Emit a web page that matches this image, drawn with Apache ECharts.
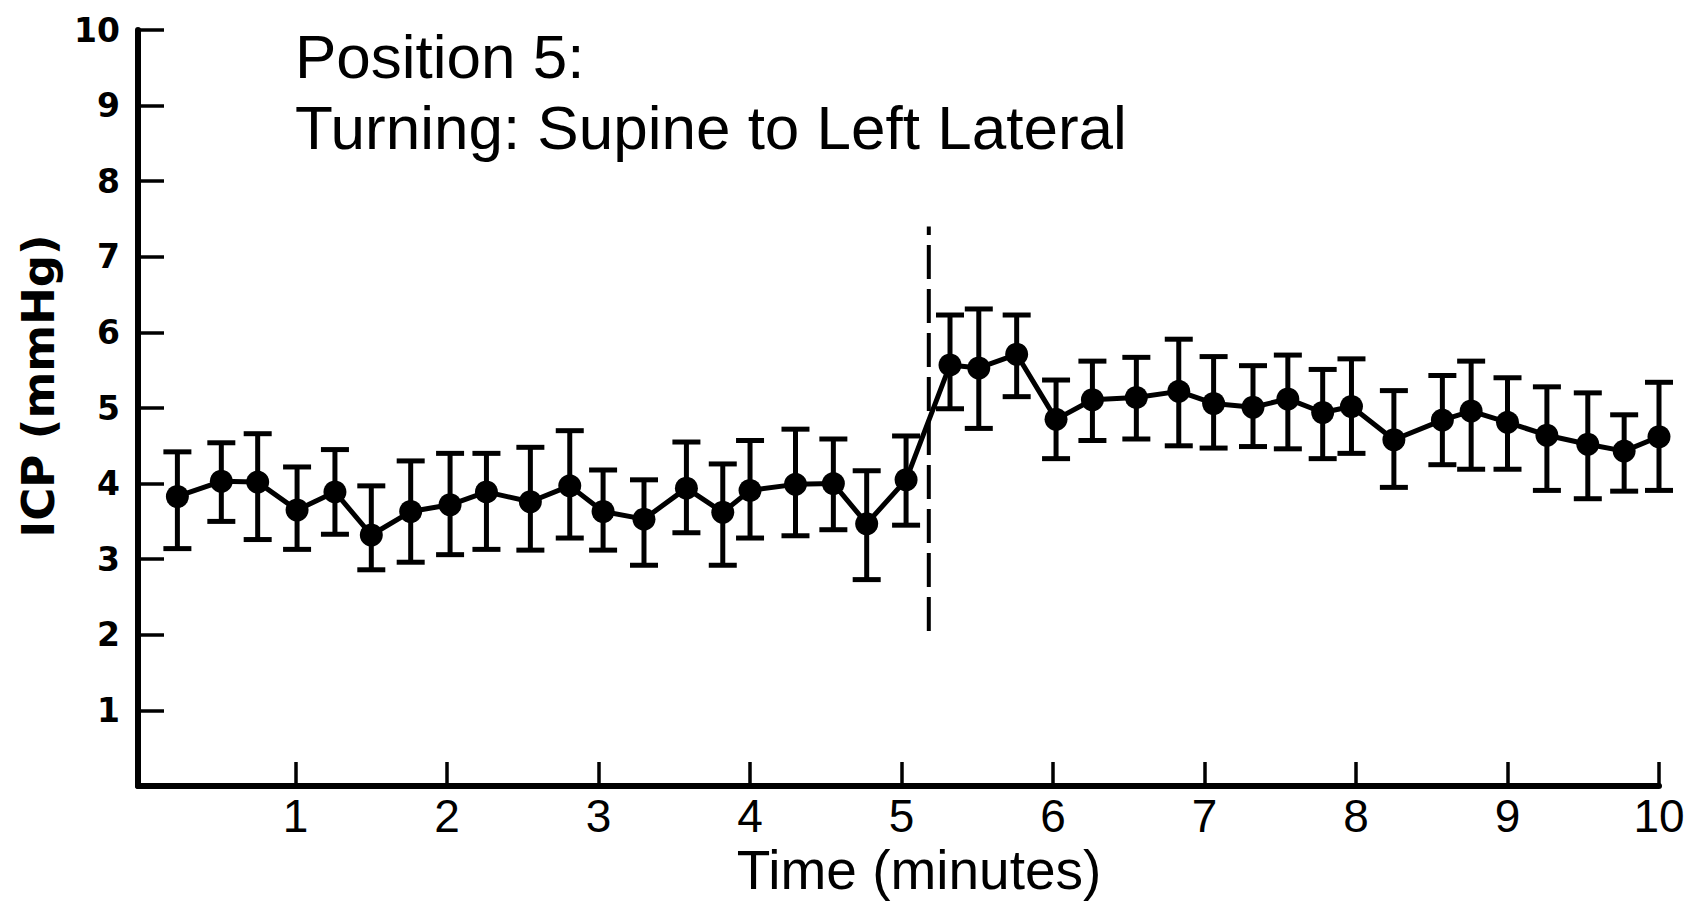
<!DOCTYPE html>
<html>
<head>
<meta charset="utf-8">
<script src="https://cdn.jsdelivr.net/npm/echarts@6/dist/echarts.min.js"></script>
<style>
  html, body { margin: 0; padding: 0; background: #fff; }
  #chart { width: 1691px; height: 902px; }
</style>
</head>
<body>
<div id="chart"></div>
<script>
// ---- Data ----
const titleLines = ['Position 5:', 'Turning: Supine to Left Lateral'];
const xAxisTitle = 'Time (minutes)';
const yAxisTitle = 'ICP (mmHg)';
const xTickValues = [1, 2, 3, 4, 5, 6, 7, 8, 9, 10];
const yTickValues = [1, 2, 3, 4, 5, 6, 7, 8, 9, 10];

const timeMin = [0.22, 0.51, 0.75, 1.01, 1.26, 1.50, 1.76, 2.02, 2.26, 2.55,
                 2.81, 3.03, 3.30, 3.58, 3.82, 4.00, 4.30, 4.55, 4.77, 5.03,
                 5.32, 5.51, 5.76, 6.02, 6.26, 6.55, 6.83, 7.06, 7.32, 7.55,
                 7.78, 7.97, 8.25, 8.57, 8.76, 9.00, 9.26, 9.53, 9.77, 10.00];
const icpMean  = [3.83, 4.03, 4.02, 3.65, 3.89, 3.32, 3.63, 3.72, 3.89, 3.76,
                  3.97, 3.63, 3.53, 3.94, 3.62, 3.91, 3.99, 4.00, 3.47, 4.05,
                  5.57, 5.53, 5.71, 4.85, 5.11, 5.14, 5.22, 5.06, 5.01, 5.12,
                  4.94, 5.02, 4.58, 4.84, 4.96, 4.81, 4.64, 4.52, 4.43, 4.62];
const icpUpper = [4.42, 4.54, 4.66, 4.22, 4.45, 3.97, 4.30, 4.40, 4.40, 4.48,
                  4.70, 4.18, 4.05, 4.55, 4.26, 4.57, 4.72, 4.59, 4.17, 4.63,
                  6.23, 6.31, 6.23, 5.37, 5.62, 5.67, 5.91, 5.68, 5.56, 5.70,
                  5.51, 5.65, 5.23, 5.43, 5.62, 5.40, 5.28, 5.20, 4.91, 5.34];
const icpLower = [3.14, 3.50, 3.26, 3.13, 3.33, 2.86, 2.96, 3.06, 3.13, 3.12,
                  3.28, 3.12, 2.92, 3.35, 2.92, 3.28, 3.31, 3.39, 2.73, 3.45,
                  4.99, 4.73, 5.15, 4.33, 4.57, 4.59, 4.50, 4.47, 4.49, 4.46,
                  4.33, 4.40, 3.95, 4.25, 4.19, 4.19, 3.91, 3.80, 3.90, 3.91];
const turnTime = 5.18;
const turnLineRange = [2.05, 7.4];

// ---- Chart ----
const chart = echarts.init(document.getElementById('chart'), null, { renderer: 'svg' });

const meanData = timeMin.map((t, i) => [t, icpMean[i]]);
const errData = timeMin.map((t, i) => [t, icpUpper[i], icpLower[i]]);
const turnData = turnLineRange.map(v => [turnTime, v]);

const option = {
  backgroundColor: '#ffffff',
  animation: false,
  title: {
    text: titleLines.join('\n'),
    left: 290,
    top: 16,
    textStyle: {
      fontFamily: 'Liberation Sans',
      fontSize: 62,
      fontWeight: 'normal',
      color: '#000',
      lineHeight: 71
    }
  },
  grid: { left: 138, right: 32, top: 30, bottom: 116 },
  xAxis: {
    type: 'value',
    min: -0.04,
    max: 10,
    splitLine: { show: false },
    axisLine: { onZero: false, lineStyle: { color: '#000', width: 6 } },
    axisTick: { show: true, inside: true, length: 24, customValues: xTickValues,
                lineStyle: { color: '#000', width: 3.5 } },
    axisLabel: { customValues: xTickValues, margin: 7, color: '#000',
                 fontFamily: 'Liberation Sans', fontSize: 46 }
  },
  yAxis: {
    type: 'value',
    min: 0,
    max: 10,
    interval: 1,
    splitLine: { show: false },
    axisLine: { show: true, onZero: false, lineStyle: { color: '#000', width: 6 } },
    axisTick: { show: true, inside: true, length: 26, customValues: yTickValues,
                lineStyle: { color: '#000', width: 3.5 } },
    axisLabel: { customValues: yTickValues, margin: 18, color: '#000',
                 fontFamily: 'DejaVu Sans', fontWeight: 'bold', fontSize: 33 }
  },
  graphic: [
    {
      type: 'text', x: 919, y: 870,
      style: { text: xAxisTitle, fill: '#000', font: '55px "Liberation Sans"',
               textAlign: 'center', textVerticalAlign: 'middle' }
    },
    {
      type: 'text', x: 38, y: 386, rotation: Math.PI / 2,
      style: { text: yAxisTitle, fill: '#000', font: 'bold 45px "DejaVu Sans"',
               textAlign: 'center', textVerticalAlign: 'middle' }
    }
  ],
  series: [
    {
      type: 'custom',
      data: errData,
      encode: { x: 0, y: [1, 2] },
      z: 2,
      renderItem: function (params, api) {
        const x = api.value(0);
        const top = api.coord([x, api.value(1)]);
        const bot = api.coord([x, api.value(2)]);
        const half = 14;
        const st = { stroke: '#000', lineWidth: 5, fill: null };
        return {
          type: 'group',
          children: [
            { type: 'line', shape: { x1: top[0], y1: top[1], x2: bot[0], y2: bot[1] }, style: st },
            { type: 'line', shape: { x1: top[0] - half, y1: top[1], x2: top[0] + half, y2: top[1] }, style: st },
            { type: 'line', shape: { x1: bot[0] - half, y1: bot[1], x2: bot[0] + half, y2: bot[1] }, style: st }
          ]
        };
      }
    },
    {
      type: 'line',
      data: meanData,
      z: 3,
      symbol: 'circle',
      symbolSize: 23,
      itemStyle: { color: '#000' },
      lineStyle: { color: '#000', width: 5 }
    },
    {
      type: 'line',
      data: turnData,
      z: 1,
      symbol: 'none',
      lineStyle: { color: '#000', width: 4, type: [34, 10] }
    }
  ]
};
chart.setOption(option);
</script>
</body>
</html>
